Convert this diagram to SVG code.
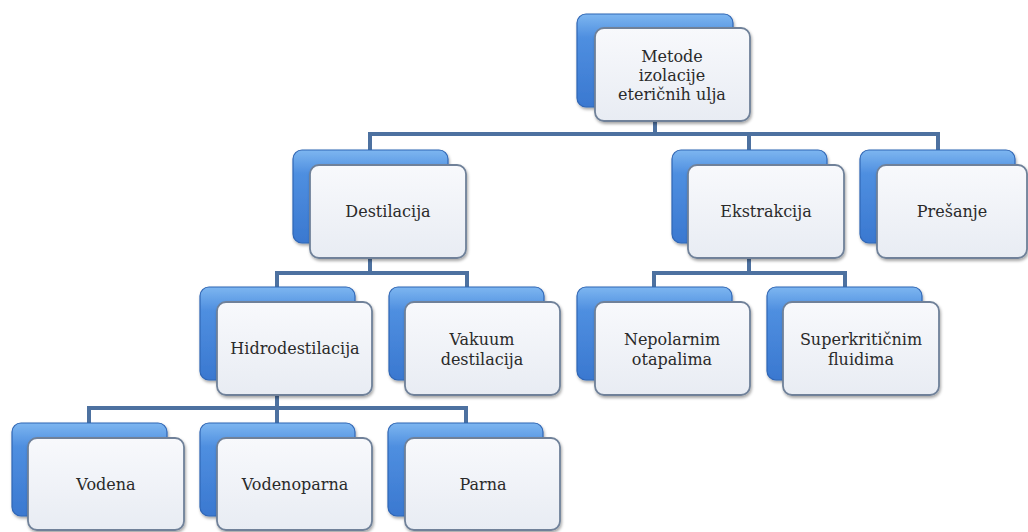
<svg xmlns="http://www.w3.org/2000/svg" width="1028" height="532" viewBox="0 0 1028 532">
<defs>
<linearGradient id="gb" x1="0" y1="0" x2="0" y2="1">
<stop offset="0" stop-color="#7db6f0"/>
<stop offset="0.25" stop-color="#4f8fe0"/>
<stop offset="1" stop-color="#3a78d0"/>
</linearGradient>
<linearGradient id="gf" x1="0" y1="0" x2="0" y2="1">
<stop offset="0" stop-color="#f8f9fc"/>
<stop offset="1" stop-color="#e8ecf3"/>
</linearGradient>
<filter id="sh" x="-10%" y="-10%" width="125%" height="130%">
<feDropShadow dx="1" dy="2" stdDeviation="1.8" flood-color="#000" flood-opacity="0.35"/>
</filter>
</defs>
<style>
.b{fill:url(#gb);stroke:#2f66b5;stroke-width:1.2;filter:url(#sh)}
.f{fill:url(#gf);stroke:#6f8199;stroke-width:1.8;filter:url(#sh)}
.c{fill:none;stroke:#4d71a0;stroke-width:4}
.t{font-family:'DejaVu Serif','Liberation Serif',serif;font-size:16px;fill:#2a2a2a;text-anchor:middle}
</style>
<rect width="1028" height="532" fill="#fff"/>
<g id="connectors">
<path class="c" d="M655 107V134M370 134H938M370 132V152M749 132V152M938 132V152"/>
<path class="c" d="M370 243V273M277 273H467M277 271V289M467 271V289"/>
<path class="c" d="M749 243V273M654 273H845M654 271V289M845 271V289"/>
<path class="c" d="M277 380V408M89 408H466M89 406V425M277 406V425M466 406V425"/>
</g>
<g id="root">
<rect class="b" x="577" y="14" width="156" height="93" rx="9"/>
<rect class="f" x="595" y="28" width="155" height="93" rx="9"/>
<text class="t" x="672" y="62">Metode</text>
<text class="t" x="672" y="81">izolacije</text>
<text class="t" x="672" y="100">eteričnih ulja</text>
</g>
<g id="destilacija">
<rect class="b" x="293" y="150" width="155" height="93" rx="9"/>
<rect class="f" x="310" y="165" width="156" height="93" rx="9"/>
<text class="t" x="388" y="217">Destilacija</text>
</g>
<g id="ekstrakcija">
<rect class="b" x="672" y="150" width="155" height="93" rx="9"/>
<rect class="f" x="688" y="165" width="156" height="93" rx="9"/>
<text class="t" x="766" y="217">Ekstrakcija</text>
</g>
<g id="presanje">
<rect class="b" x="860" y="150" width="155" height="93" rx="9"/>
<rect class="f" x="877" y="165" width="150" height="93" rx="9"/>
<text class="t" x="952" y="217">Prešanje</text>
</g>
<g id="hidrodestilacija">
<rect class="b" x="200" y="287" width="155" height="93" rx="9"/>
<rect class="f" x="217" y="302" width="155" height="93" rx="9"/>
<text class="t" x="295" y="354">Hidrodestilacija</text>
</g>
<g id="vakuum">
<rect class="b" x="389" y="287" width="155" height="93" rx="9"/>
<rect class="f" x="405" y="302" width="155" height="93" rx="9"/>
<text class="t" x="482" y="345">Vakuum</text>
<text class="t" x="482" y="365">destilacija</text>
</g>
<g id="nepolarnim">
<rect class="b" x="577" y="287" width="155" height="93" rx="9"/>
<rect class="f" x="595" y="302" width="155" height="93" rx="9"/>
<text class="t" x="672" y="345">Nepolarnim</text>
<text class="t" x="672" y="365">otapalima</text>
</g>
<g id="superkriticnim">
<rect class="b" x="767" y="287" width="155" height="93" rx="9"/>
<rect class="f" x="783" y="302" width="156" height="93" rx="9"/>
<text class="t" x="861" y="345">Superkritičnim</text>
<text class="t" x="861" y="365">fluidima</text>
</g>
<g id="vodena">
<rect class="b" x="12" y="423" width="155" height="93" rx="9"/>
<rect class="f" x="28" y="438" width="156" height="92" rx="9"/>
<text class="t" x="106" y="490">Vodena</text>
</g>
<g id="vodenoparna">
<rect class="b" x="200" y="423" width="155" height="93" rx="9"/>
<rect class="f" x="217" y="438" width="155" height="92" rx="9"/>
<text class="t" x="295" y="490">Vodenoparna</text>
</g>
<g id="parna">
<rect class="b" x="388" y="423" width="155" height="93" rx="9"/>
<rect class="f" x="405" y="438" width="155" height="92" rx="9"/>
<text class="t" x="483" y="490">Parna</text>
</g>
</svg>
